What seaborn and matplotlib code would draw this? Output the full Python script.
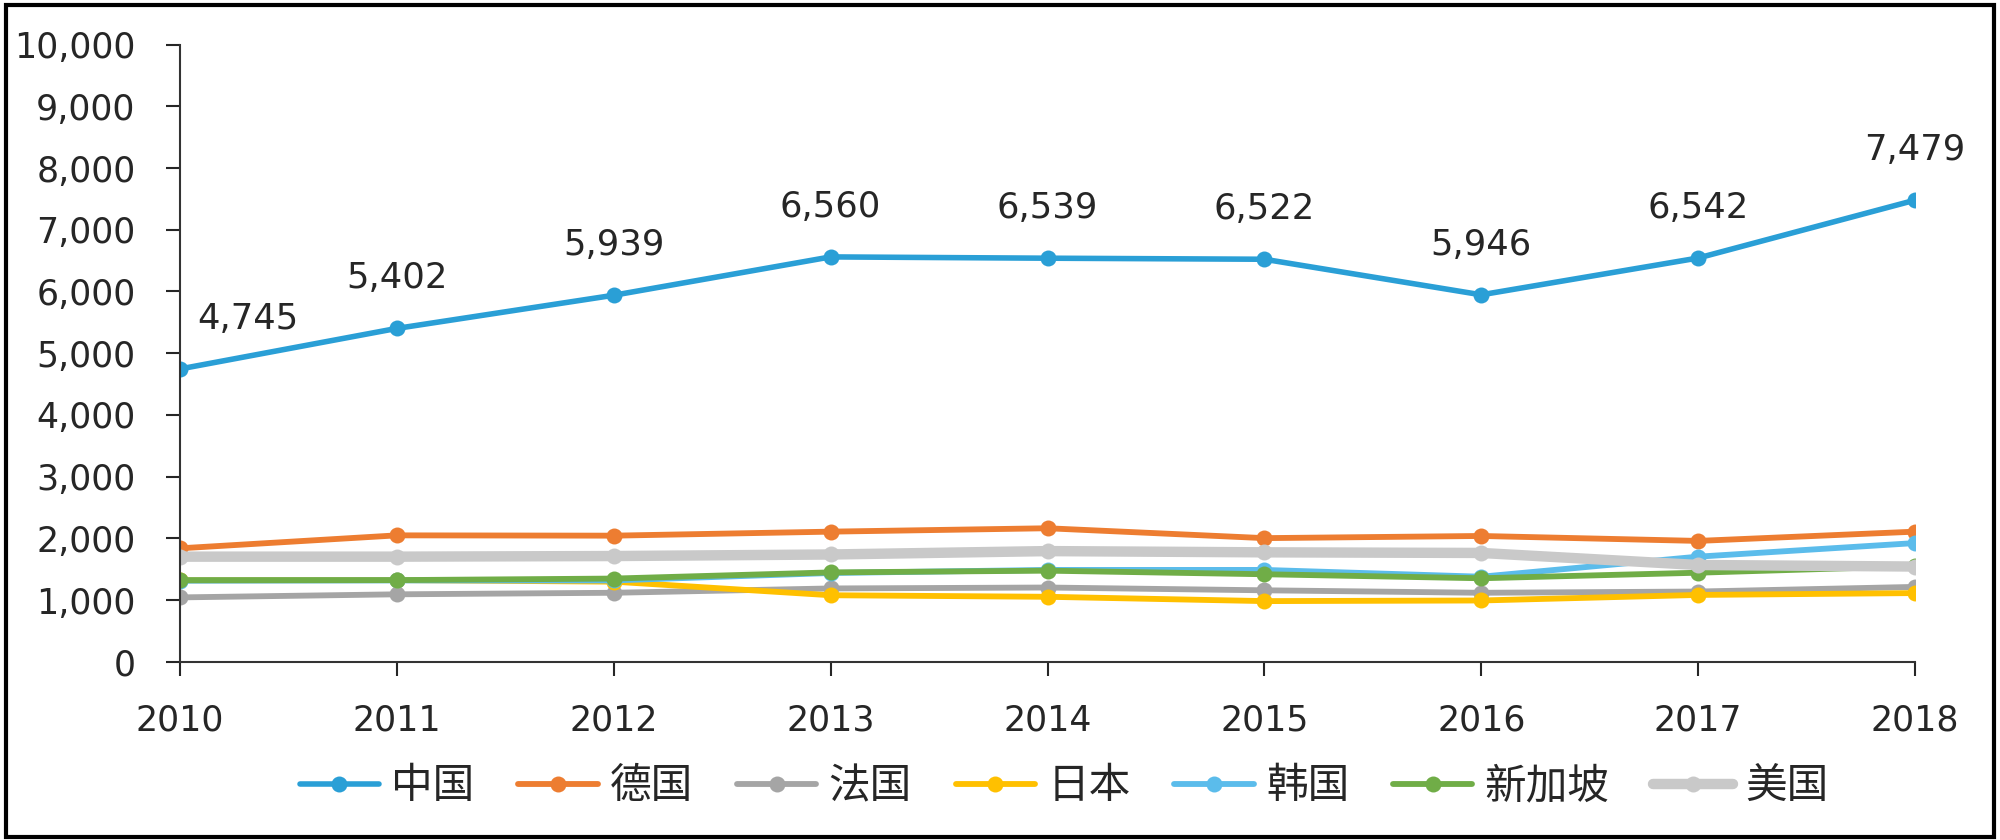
import pandas as pd
import matplotlib
matplotlib.use("Agg")
import matplotlib.pyplot as plt
import seaborn as sns
from matplotlib.patches import Rectangle
from matplotlib.ticker import FuncFormatter

# Data
years = [2010, 2011, 2012, 2013, 2014, 2015, 2016, 2017, 2018]
china = [4745, 5402, 5939, 6560, 6539, 6522, 5946, 6542, 7479]
germany = [1840, 2050, 2045, 2110, 2165, 2005, 2040, 1960, 2110]
france = [1045, 1095, 1120, 1190, 1205, 1160, 1120, 1140, 1215]
japan = [1320, 1325, 1300, 1080, 1055, 985, 995, 1085, 1115]
korea = [1315, 1320, 1320, 1440, 1490, 1490, 1380, 1705, 1925]
singapore = [1325, 1325, 1350, 1450, 1478, 1420, 1355, 1445, 1550]
usa = [1705, 1705, 1715, 1740, 1795, 1775, 1765, 1570, 1545]

names = ["中国", "德国", "法国", "日本", "韩国", "新加坡", "美国"]
series = [china, germany, france, japan, korea, singapore, usa]
colors = ["#2A9FD6", "#ED7D31", "#A5A5A5", "#FFC000", "#5BBCEB", "#70AD47", "#C9C9C9"]
widths = [4.0, 4.2, 4.2, 4.2, 4.2, 4.2, 7.5]

sns.set_style("white")
plt.rcParams["font.family"] = ["DejaVu Sans", "Noto Sans CJK SC"]

fig = plt.figure(figsize=(20, 8.4), dpi=100)
ax = fig.add_axes([0.09, 0.212, 0.8675, 0.735])

for name, vals, col, lw in zip(names, series, colors, widths):
    df = pd.DataFrame({"year": years, "value": vals})
    sns.lineplot(data=df, x="year", y="value", ax=ax, color=col, linewidth=lw,
                 marker="o", markersize=11.5, markeredgewidth=0, label=name)

for x, y in zip(years, china):
    dx = 68 if x == years[0] else 0
    ax.annotate(f"{y:,}", (x, y), xytext=(dx, 50), textcoords="offset pixels",
                ha="center", va="center", fontsize=25.5, color="#262626")

ax.set_xlim(2010, 2018)
ax.set_ylim(0, 10000)
ax.set_xticks(years)
ax.set_yticks(range(0, 10001, 1000))
ax.yaxis.set_major_formatter(FuncFormatter(lambda v, p: f"{int(v):,}"))
ax.set_xlabel("")
ax.set_ylabel("")
ax.tick_params(axis="y", direction="out", length=10, width=1.5, pad=22, labelsize=25,
               colors="#262626", left=True)
ax.tick_params(axis="x", direction="out", length=10, width=1.5, pad=20, labelsize=25,
               colors="#262626", bottom=True)
for s in ["top", "right"]:
    ax.spines[s].set_visible(False)
for s in ["left", "bottom"]:
    ax.spines[s].set_color("#333333")
    ax.spines[s].set_linewidth(1.5)

ax.get_legend().remove()
handles, labels = ax.get_legend_handles_labels()
fig.legend(handles, labels, loc="center", bbox_to_anchor=(0.532, 0.064), ncol=7,
           frameon=False, fontsize=30, handlelength=1.9, columnspacing=1.05,
           handletextpad=0.3, labelcolor="#262626")

fig.patches.append(Rectangle((0.003, 0.004), 0.994, 0.99, transform=fig.transFigure,
                             fill=False, edgecolor="black", linewidth=3))

fig.savefig("out.png", dpi=100)
